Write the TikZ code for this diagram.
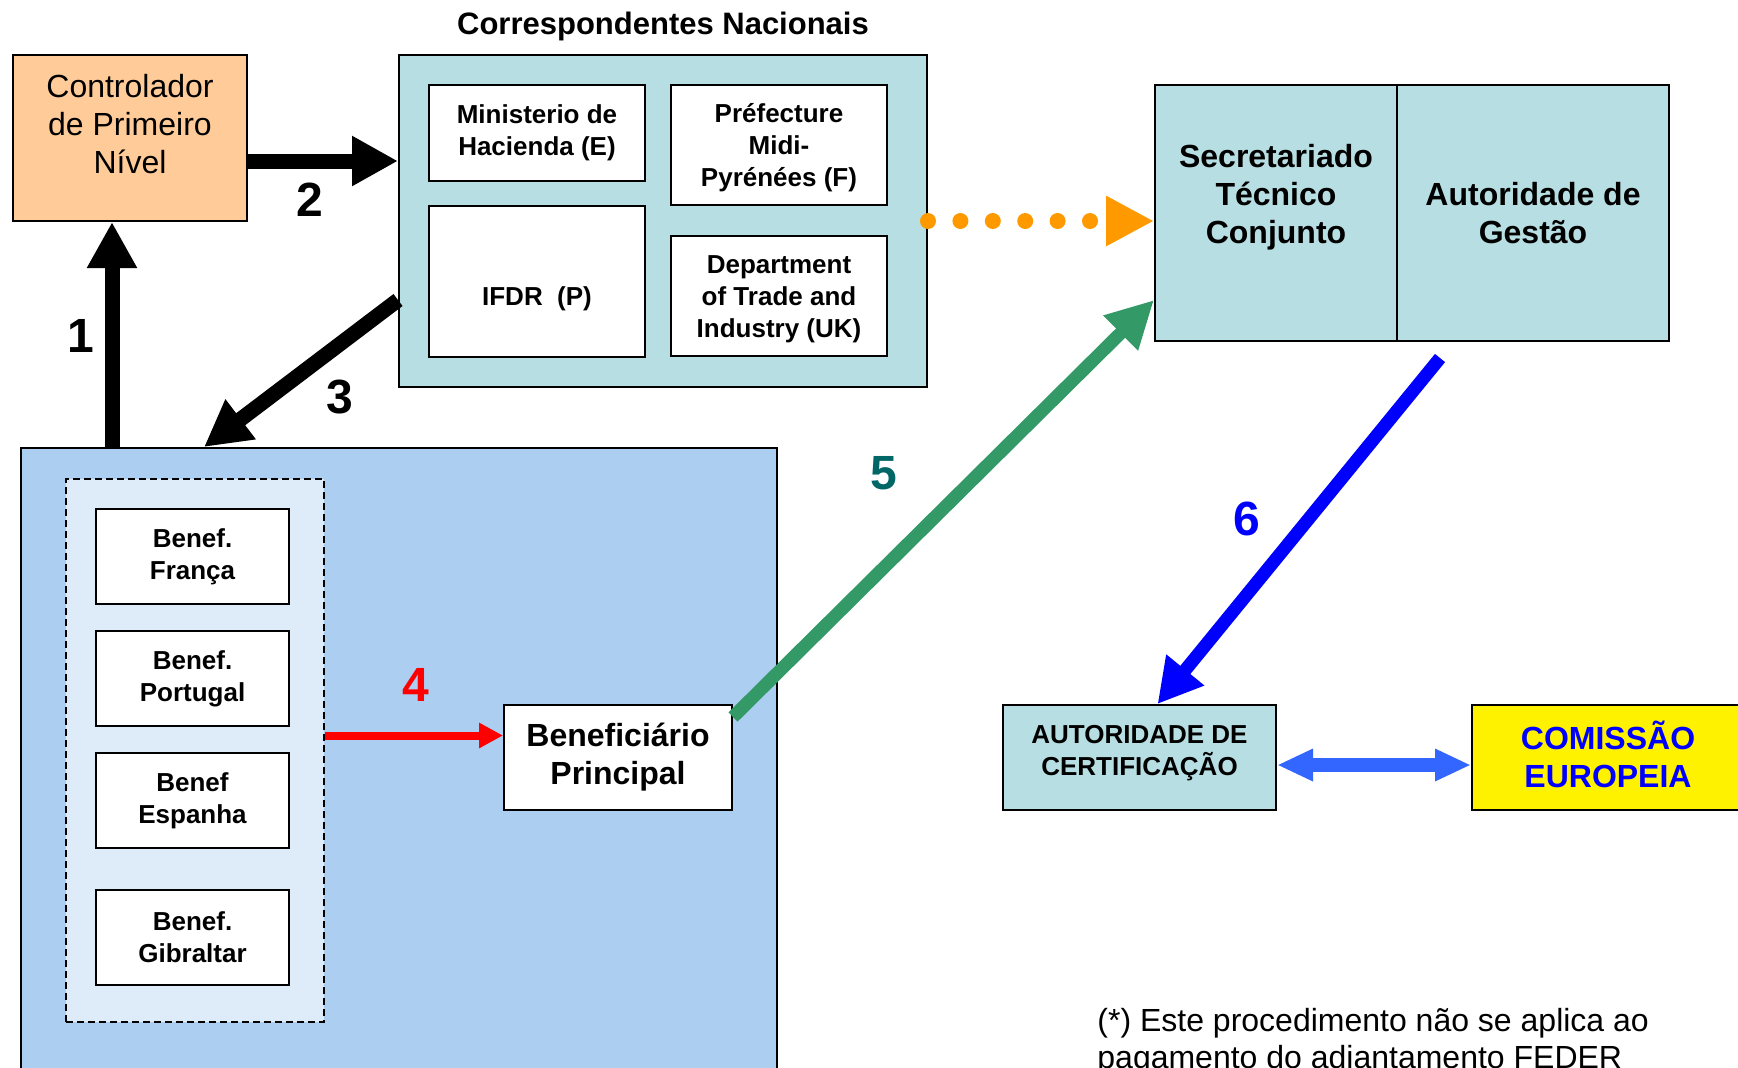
\documentclass[tikz,border=0pt]{standalone}
\usepackage{fontspec}
\setmainfont{Liberation Sans}
\usetikzlibrary{arrows.meta,positioning}

\definecolor{ctrlorange}{RGB}{255,204,153}
\definecolor{corrteal}{RGB}{183,222,226}
\definecolor{benblue}{RGB}{172,206,240}
\definecolor{grpblue}{RGB}{222,235,248}
\definecolor{dotorange}{RGB}{255,153,0}
\definecolor{fivegreen}{RGB}{51,153,102}
\definecolor{fiveteal}{RGB}{0,102,102}
\definecolor{dblblue}{RGB}{51,102,255}

\begin{document}
\begin{tikzpicture}[
      x=0.5pt, y=-0.5pt,
      box/.style={
        rectangle,
        draw=black,
        line width=1pt,
        inner sep=0pt,
        align=center,
        font=\bfseries\fontsize{13}{16}\selectfont
      },
      big/.style={font=\bfseries\fontsize{16}{19}\selectfont},
      num/.style={font=\bfseries\fontsize{24}{28}\selectfont},
      fat/.style={line width=7.5pt, -{Triangle[length=23pt,width=23.5pt]}}
    ]

    \useasboundingbox (0,0) rectangle (1738,1067);
    \clip (0,0) rectangle (1738,1067);

    % Controlador
    \node[box, fill=ctrlorange, minimum width=117pt, minimum height=83pt] (ctrl) at (130,138) {};
    \node[align=center, font=\fontsize{16}{19}\selectfont] (ctrltxt) at (130,124) {Controlador\\de Primeiro\\Nível};

    % Correspondentes nacionais
    \node[box, fill=corrteal, minimum width=264pt, minimum height=166pt] (corr) at (663,221) {};
    \node[font=\bfseries\fontsize{15.5}{18}\selectfont] (corrtitle) at (663,26) {Correspondentes Nacionais};
    \node[box, fill=white, minimum width=108pt, minimum height=48pt] (min) at (537,133) {Ministerio de\\Hacienda (E)};
    \node[box, fill=white, minimum width=108pt, minimum height=60pt] (pref) at (779,145) {};
    \node[font=\bfseries\fontsize{13}{16}\selectfont, align=center] (preftxt) at (779,148) {Préfecture\\Midi-\\Pyrénées (F)};
    \node[box, fill=white, minimum width=108pt, minimum height=75.5pt] (ifdr) at (537,281.5) {};
    \node[font=\bfseries\fontsize{13}{16}\selectfont] (ifdrtxt) at (537,299) {IFDR\ \ (P)};
    \node[box, fill=white, minimum width=108pt, minimum height=60pt] (dti) at (779,296) {};
    \node[font=\bfseries\fontsize{13}{16}\selectfont, align=center] (dtitxt) at (779,299) {Department\\of Trade and\\Industry (UK)};

    % Secretariado / Autoridade de Gestao
    \node[box, fill=corrteal, minimum width=121pt, minimum height=128pt] (stc) at (1276,213) {};
    \node[big, align=center] (stctxt) at (1276,197) {Secretariado\\Técnico\\Conjunto};
    \node[box, big, fill=corrteal, minimum width=136pt, minimum height=128pt] (ag) at (1533,213) {Autoridade de\\Gestão};

    % Beneficiarios
    \node[box, fill=benblue, minimum width=378pt, minimum height=326pt] (bigbox) at (399,774) {};
    \node[box, fill=grpblue, dashed, dash pattern=on 3.3pt off 2.2pt, minimum width=129pt, minimum height=271.5pt] (grp) at (195,750.5) {};
    \node[box, fill=white, minimum width=96.5pt, minimum height=47.5pt] (bfr) at (192.5,556.5) {Benef.\\França};
    \node[box, fill=white, minimum width=96.5pt, minimum height=47.5pt, below=12.5pt of bfr] (bpt) {Benef.\\Portugal};
    \node[box, fill=white, minimum width=96.5pt, minimum height=47.5pt, below=12.5pt of bpt] (bes) {Benef\\Espanha};
    \node[box, fill=white, minimum width=96.5pt, minimum height=47.5pt, below=20pt of bes] (bgi) {Benef.\\Gibraltar};
    \node[box, big, fill=white, minimum width=114pt, minimum height=52.5pt] (benp) at (618,757.5) {Beneficiário\\Principal};

    % Certificacao e Comissao
    \node[box, fill=corrteal, minimum width=136.5pt, minimum height=52.5pt] (ac) at (1139.5,757.5) {};
    \node[font=\bfseries\fontsize{13}{16}\selectfont, align=center] (actxt) at (1139.5,753) {AUTORIDADE DE\\CERTIFICAÇÃO};
    \node[box, fill=yellow, minimum width=139pt, minimum height=52.5pt] (ce) at (1611,757.5) {};
    \node[big, text=blue, align=center] (cetxt) at (1608,754) {COMISSÃO\\EUROPEIA};

    % Arrows
    \draw[fat] ([xshift=-9pt]ctrl.south |- bigbox.north) -- ([xshift=-9pt]ctrl.south);
    \draw[fat] ([yshift=-11.5pt]ctrl.east) -- ([yshift=-11.5pt]ctrl.east -| corr.west);
    \draw[fat] ([yshift=44pt]corr.south west) -- ([xshift=92pt]bigbox.north west);
    \draw[red, line width=4pt, -{Triangle[length=12pt,width=12pt]}] ([yshift=11pt]benp.west -| grp.east) -- ([yshift=11pt]benp.west);
    \draw[fivegreen, line width=6.5pt, -{Triangle[length=23.5pt,width=23pt]}] ([yshift=-6.5pt]benp.north east) -- ([yshift=21pt]stc.south west);
    \draw[blue, line width=6.5pt, -{Triangle[length=22pt,width=23pt]}] ([shift={(22pt,-8pt)}]ag.south west) -- ([xshift=9pt]ac.north);
    \draw[dotorange, line width=8pt, line cap=round, dash pattern=on 0pt off 16.2pt, -{Triangle[length=24pt,width=23.5pt]}] (corr.east) -- (corr.east -| stc.west);
    \draw[dblblue, line width=7pt, {Triangle[length=18pt,width=15pt]}-{Triangle[length=18pt,width=15pt]}] ([yshift=-3.75pt]ac.east) -- ([yshift=-3.75pt]ac.east -| ce.west);

    % Numbers
    \node[num] (n1) at (81,336) {1};
    \node[num] (n2) at (310,200) {2};
    \node[num] (n3) at (340,397) {3};
    \node[num, text=red] (n4) at (416,685) {4};
    \node[num, text=fiveteal] (n5) at (884,473) {5};
    \node[num, text=blue] (n6) at (1247,519) {6};

    % Note
    \node[anchor=north west, align=left, inner sep=0pt, font=\fontsize{16}{18.3}\selectfont] (note) at (1097,1008) {(*) Este procedimento não se aplica ao\\pagamento do adiantamento FEDER};
    \end{tikzpicture}
\end{document}
